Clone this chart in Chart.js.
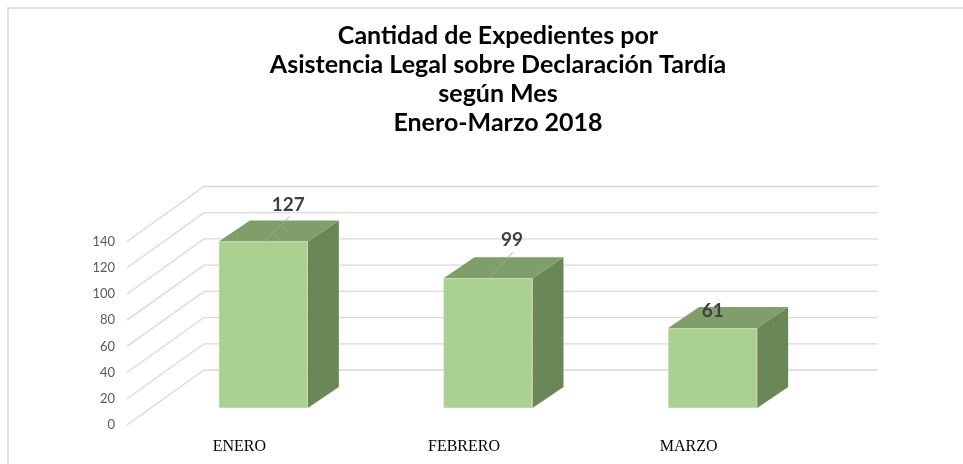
<!DOCTYPE html>
<html>
<head>
<meta charset="utf-8">
<script src="https://cdn.jsdelivr.net/npm/chart.js@4"></script>
<style>
  html, body { margin: 0; padding: 0; background: #ffffff; }
  #wrap { width: 963px; height: 464px; }
</style>
</head>
<body>
<div id="wrap"><canvas id="c" width="963" height="464"></canvas></div>
<script>
// ---- data ----
const titleLines = [
  'Cantidad de Expedientes por',
  'Asistencia Legal sobre Declaración Tardía',
  'según Mes',
  'Enero-Marzo 2018'
];
const categories = ['ENERO', 'FEBRERO', 'MARZO'];
const values = [127, 99, 61];
const yMin = 0;
const yMax = 140;
const yStep = 20;

// ---- 3D look (styling, not data) ----
const wallDepth = { dx: 77, dy: -55 };
const barFront = { dx: 24, dy: -17 };
const barDepth = { dx: 31, dy: -21 };
const labelPlacement = [
  { dx: 25, dy: -37, leader: true },
  { dx: 24, dy: -38, leader: true },
  { dx: 0, dy: -17, leader: false }
];

const bar3d = {
  id: 'bar3d',
  beforeDraw(chart) {
    const ctx = chart.ctx;
    ctx.save();
    ctx.strokeStyle = '#d9d9d9';
    ctx.lineWidth = 1.5;
    ctx.beginPath();
    ctx.moveTo(7, 8); ctx.lineTo(chart.width, 8);
    ctx.moveTo(8, 7); ctx.lineTo(8, chart.height);
    ctx.stroke();
    ctx.restore();
  },
  beforeDatasetsDraw(chart) {
    const ctx = chart.ctx;
    const ys = chart.scales.y;
    const area = chart.chartArea;
    ctx.save();
    ctx.strokeStyle = '#d9d9d9';
    ctx.lineWidth = 1.3;
    ys.ticks.forEach(t => {
      const yf = ys.getPixelForValue(t.value);
      ctx.beginPath();
      ctx.moveTo(area.left, yf);
      ctx.lineTo(area.left + wallDepth.dx, yf + wallDepth.dy);
      ctx.lineTo(area.right + wallDepth.dx, yf + wallDepth.dy);
      ctx.stroke();
    });
    ctx.restore();
  },
  afterDatasetsDraw(chart) {
    const ctx = chart.ctx;
    const meta = chart.getDatasetMeta(0);
    ctx.save();
    meta.data.forEach((el, i) => {
      const p = el.getProps(['x', 'y', 'base', 'width'], true);
      const x0 = p.x - p.width / 2 + barFront.dx;
      const x1 = p.x + p.width / 2 + barFront.dx;
      const yt = p.y + barFront.dy;
      const yb = p.base + barFront.dy;
      const dx = barDepth.dx, dy = barDepth.dy;
      // side face
      ctx.fillStyle = '#6a8758';
      ctx.beginPath();
      ctx.moveTo(x1, yt); ctx.lineTo(x1 + dx, yt + dy);
      ctx.lineTo(x1 + dx, yb + dy); ctx.lineTo(x1, yb);
      ctx.closePath(); ctx.fill();
      // top face
      ctx.fillStyle = '#7f9e69';
      ctx.beginPath();
      ctx.moveTo(x0, yt); ctx.lineTo(x0 + dx, yt + dy);
      ctx.lineTo(x1 + dx, yt + dy); ctx.lineTo(x1, yt);
      ctx.closePath(); ctx.fill();
      // front face
      ctx.fillStyle = '#a9d08e';
      ctx.fillRect(x0, yt, x1 - x0, yb - yt);
      ctx.strokeStyle = 'rgba(255,255,255,0.25)';
      ctx.lineWidth = 1;
      ctx.strokeRect(x0 + 0.5, yt + 0.5, x1 - x0 - 1, yb - yt - 1);

      // data label
      const cx = (x0 + x1) / 2;
      const lp = labelPlacement[i];
      const lx = cx + lp.dx, ly = yt + lp.dy;
      if (lp.leader) {
        ctx.strokeStyle = '#a6a6a6';
        ctx.lineWidth = 1;
        ctx.beginPath();
        ctx.moveTo(lx + 1, ly + 12);
        ctx.lineTo(cx + 1, yt);
        ctx.stroke();
      }
      ctx.fillStyle = '#404040';
      ctx.font = 'bold 19px Lato';
      ctx.textAlign = 'center';
      ctx.textBaseline = 'middle';
      ctx.fillText(String(values[i]), lx, ly);
    });
    ctx.restore();
  }
};

new Chart(document.getElementById('c'), {
  type: 'bar',
  data: {
    labels: categories,
    datasets: [{
      data: values,
      backgroundColor: 'rgba(0,0,0,0)',
      borderWidth: 0,
      categoryPercentage: 1,
      barPercentage: 0.396
    }]
  },
  options: {
    responsive: false,
    devicePixelRatio: 1,
    animation: false,
    layout: { padding: { left: 53, right: 20, top: 0, bottom: 0 } },
    plugins: {
      legend: { display: false },
      tooltip: { enabled: false },
      title: {
        display: true,
        text: titleLines,
        color: '#000000',
        font: { family: 'Lato', size: 25, weight: 'bold', lineHeight: 1.16 },
        padding: { top: 21.5, bottom: 104 }
      }
    },
    scales: {
      x: {
        grid: { display: false, drawTicks: false },
        border: { display: false },
        ticks: {
          color: '#000000',
          font: { family: 'Liberation Serif', size: 16 },
          padding: 12
        },
        afterFit(s) { s.height = 39; }
      },
      y: {
        min: yMin,
        max: yMax,
        grid: { display: false, drawTicks: false },
        border: { display: false },
        ticks: {
          stepSize: yStep,
          color: '#595959',
          font: { family: 'Lato', size: 13 },
          padding: 12
        },
        afterFit(s) { s.width = 74; }
      },
      spacer: {
        type: 'linear',
        position: 'right',
        display: true,
        grid: { display: false, drawTicks: false },
        border: { display: false },
        ticks: { display: false },
        afterFit(s) { s.width = 142; }
      }
    }
  },
  plugins: [bar3d]
});
</script>
</body>
</html>
